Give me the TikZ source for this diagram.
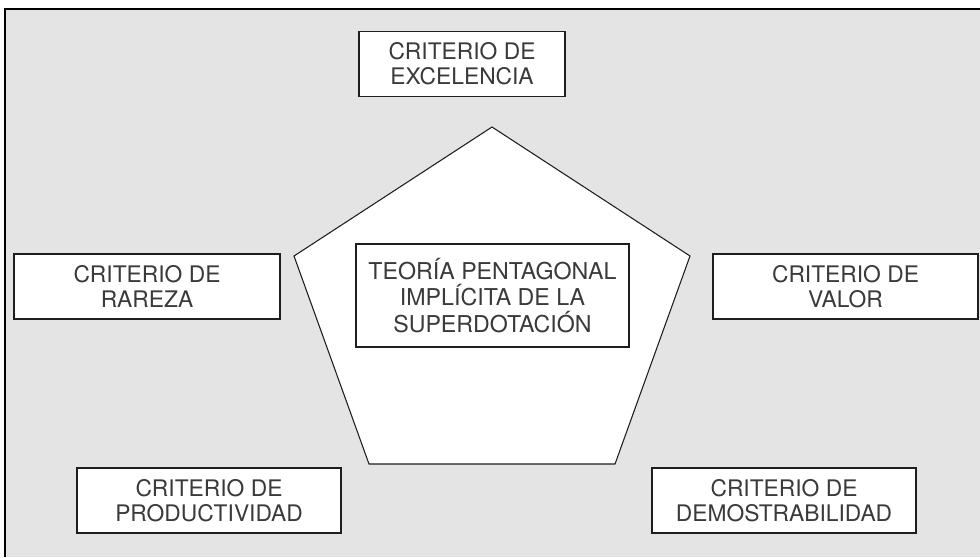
\documentclass[tikz,border=0pt]{standalone}
\usepackage{fontspec}
\setmainfont{TeX Gyre Heros}
\definecolor{bggray}{HTML}{E4E4E4}
\definecolor{txtgray}{HTML}{3A3A3A}
\definecolor{linegray}{HTML}{1E1E1E}
\begin{document}
\begin{tikzpicture}[x=0.75pt,y=-0.75pt,
  critbox/.style={draw=linegray, line width=1.4pt, fill=white, rectangle,
    inner sep=0pt, minimum width=#1, minimum height=48.75pt, align=center,
    text=txtgray, font=\fontsize{17.1}{18.6}\selectfont},
  critbox/.default=198pt,
  centerbox/.style={draw=linegray, line width=1.4pt, fill=white, rectangle,
    inner sep=0pt, minimum width=204.75pt, minimum height=77.25pt, align=center,
    text=txtgray, font=\fontsize{17.4}{19.9}\selectfont},
  pent/.style={draw=linegray, line width=0.8pt, fill=white, line join=miter},
  frameline/.style={draw=black, line width=1.6pt}
]
\useasboundingbox (0,0) rectangle (980,557);
\fill[white] (0,0) rectangle (980,557);
\fill[bggray] (5,9) rectangle (980,557);
\draw[frameline] (980,9) -- (5,9) -- (5,557);

% pentagon
\coordinate (ptop) at (492,127);
\coordinate (pright) at (690,256);
\coordinate (pbr) at (615,464);
\coordinate (pbl) at (369,464);
\coordinate (pleft) at (294,256);
\draw[pent] (ptop) -- (pright) -- (pbr) -- (pbl) -- (pleft) -- cycle;

\node[centerbox] (teoria) at (492.5,295.5) {TEORÍA PENTAGONAL\\IMPLÍCITA DE LA\\SUPERDOTACIÓN};

\node[critbox=154.5pt] (excelencia) at (462,64) {CRITERIO DE\\EXCELENCIA};
\node[critbox=199.5pt] (rareza) at (147,286.5) {CRITERIO DE\\RAREZA};
\node[critbox=198.75pt] (valor) at (845.5,286.5) {CRITERIO DE\\VALOR};
\node[critbox=198pt] (productividad) at (209,500.5) {CRITERIO DE\\PRODUCTIVIDAD};
\node[critbox=198pt] (demostrabilidad) at (784,500.5) {CRITERIO DE\\DEMOSTRABILIDAD};
\end{tikzpicture}
\end{document}
